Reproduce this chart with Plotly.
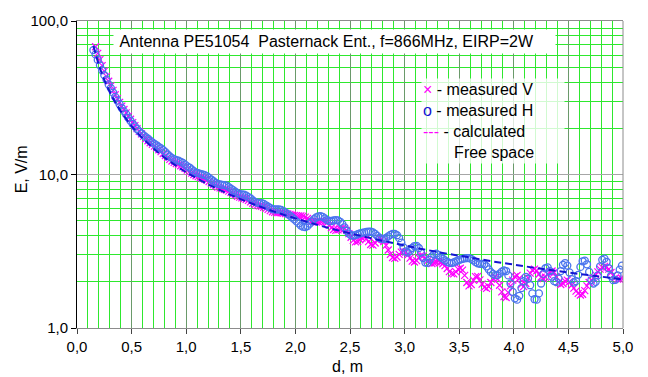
import plotly.graph_objects as go

# Measurement grid: one reading every 2 cm
STEP = 0.02

# Measured field strength E (V/m), H polarisation, starting at d = 0.15 m
e_meas_h = [
    64.6, 60.6, 55.8, 51.4, 47.8, 44.4, 41.5, 38.6, 36.5, 34.2,   # 0.15-0.33
    32.0, 30.3, 28.7, 27.1, 25.8, 24.7, 23.4, 22.4, 21.4, 20.6,   # 0.35-0.53
    19.8, 19.1, 18.5, 18.0, 17.5, 17.1, 16.6, 16.2, 15.8, 15.5,   # 0.55-0.73
    15.1, 14.8, 14.4, 14.0, 13.5, 13.1, 12.8, 12.6, 12.4, 12.3,   # 0.75-0.93
    12.1, 11.9, 11.6, 11.3, 11.1, 10.8, 10.5, 10.3, 10.2, 10.1,   # 0.95-1.13
    10.0, 9.9, 9.75, 9.5, 9.27, 9.04, 8.82, 8.68, 8.63, 8.57,     # 1.15-1.33
    8.52, 8.47, 8.27, 8.09, 7.90, 7.72, 7.55, 7.45, 7.42, 7.39,   # 1.35-1.53
    7.29, 7.13, 6.98, 6.77, 6.63, 6.55, 6.53, 6.51, 6.43, 6.30,   # 1.55-1.73
    6.17, 6.05, 5.95, 5.92, 5.92, 5.92, 5.88, 5.78, 5.65, 5.52,   # 1.75-1.93
    5.40, 5.25, 5.10, 4.95, 4.80, 4.65, 4.57, 4.55, 4.62, 4.78,   # 1.95-2.13
    4.95, 5.12, 5.25, 5.33, 5.35, 5.30, 5.18, 5.05, 4.98, 4.98,   # 2.15-2.33
    5.02, 5.05, 5.03, 4.92, 4.75, 4.52, 4.30, 4.12, 4.02, 4.00,   # 2.35-2.53
    4.03, 4.08, 4.13, 4.17, 4.20, 4.23, 4.25, 4.25, 4.20, 4.10,   # 2.55-2.73
    3.98, 3.87, 3.81, 3.80, 3.86, 3.95, 4.04, 4.10, 4.10, 4.02,   # 2.75-2.93
    3.85, 3.60, 3.35, 3.15, 3.10, 3.18, 3.32, 3.42, 3.43, 3.32,   # 2.95-3.13
    3.10, 2.85, 2.67, 2.66, 2.78, 2.93, 3.03, 3.05, 2.98, 2.90,   # 3.15-3.33
    2.83, 2.76, 2.70, 2.66, 2.65, 2.68, 2.72, 2.76, 2.79, 2.82,   # 3.35-3.53
    2.84, 2.85, 2.85, 2.82, 2.76, 2.69, 2.64, 2.62, 2.62, 2.60,   # 3.55-3.73
    2.52, 2.41, 2.31, 2.25, 2.21, 2.21, 2.26, 2.33, 2.37, 2.35,   # 3.75-3.93
    2.20, 1.95, 1.72, 1.56, 1.53, 1.62, 1.82, 2.02, 2.15, 2.10,   # 3.95-4.13
    1.90, 1.68, 1.54, 1.53, 1.68, 1.95, 2.25, 2.45, 2.48, 2.35,   # 4.15-4.33
    2.16, 2.02, 1.99, 2.10, 2.35, 2.58, 2.65, 2.55, 2.30, 2.08,   # 4.35-4.53
    1.98, 2.02, 2.22, 2.50, 2.72, 2.75, 2.60, 2.32, 2.05, 1.95,   # 4.55-4.73
    2.00, 2.20, 2.52, 2.78, 2.83, 2.70, 2.45, 2.18, 2.05, 2.06,   # 4.75-4.93
    2.20, 2.40, 2.55,                                             # 4.95-4.99
]

# Measured field strength E (V/m), V polarisation, starting at d = 0.17 m
e_meas_v = [
    68.0, 61.5, 56.0, 51.2, 47.2, 43.6, 40.5, 37.8, 35.3, 33.1,   # 0.17-0.35
    31.2, 29.5, 27.9, 26.5, 25.2, 24.0, 22.9, 21.8, 20.8, 19.9,   # 0.37-0.55
    19.1, 18.4, 17.7, 17.1, 16.6, 16.1, 15.7, 15.3, 14.9, 14.5,   # 0.57-0.75
    14.1, 13.7, 13.3, 12.9, 12.55, 12.25, 12.0, 11.8, 11.6, 11.4, # 0.77-0.95
    11.2, 10.95, 10.7, 10.45, 10.2, 10.0, 9.82, 9.68, 9.56, 9.45, # 0.97-1.15
    9.33, 9.18, 9.0, 8.8, 8.6, 8.42, 8.28, 8.18, 8.1, 8.02,       # 1.17-1.35
    7.93, 7.8, 7.65, 7.5, 7.35, 7.22, 7.12, 7.05, 6.98, 6.9,      # 1.37-1.55
    6.78, 6.64, 6.5, 6.38, 6.3, 6.25, 6.2, 6.12, 6.02, 5.92,      # 1.57-1.75
    5.82, 5.72, 5.66, 5.63, 5.64, 5.62, 5.6, 5.57, 5.53, 5.5,     # 1.77-1.95
    5.46, 5.42, 5.40, 5.38, 5.37, 5.35, 5.28, 5.17, 5.05, 4.96,   # 1.97-2.15
    4.92, 4.90, 4.92, 4.96, 4.98, 4.95, 4.85, 4.68, 4.50, 4.38,   # 2.17-2.35
    4.33, 4.36, 4.43, 4.47, 4.45, 4.33, 4.12, 3.90, 3.72, 3.64,   # 2.37-2.55
    3.66, 3.76, 3.86, 3.90, 3.82, 3.65, 3.50, 3.47, 3.58, 3.74,   # 2.57-2.75
    3.83, 3.80, 3.66, 3.45, 3.22, 3.02, 2.88, 2.84, 2.90, 3.02,   # 2.77-2.95
    3.12, 3.16, 3.12, 3.00, 2.85, 2.73, 2.69, 2.75, 2.88, 2.97,   # 2.97-3.15
    2.95, 2.85, 2.74, 2.66, 2.63, 2.65, 2.70, 2.72, 2.68, 2.62,   # 3.17-3.35
    2.55, 2.44, 2.33, 2.26, 2.25, 2.32, 2.42, 2.45, 2.38, 2.20,   # 3.37-3.55
    1.98, 1.88, 1.92, 2.05, 2.16, 2.17, 2.06, 1.93, 1.84, 1.81,   # 3.57-3.75
    1.86, 1.98, 2.10, 2.15, 2.08, 1.90, 1.72, 1.60, 1.58, 1.70,   # 3.77-3.95
    1.88, 2.05, 2.16, 2.20, 2.10, 1.92, 1.86, 1.95, 2.12, 2.28,   # 3.97-4.15
    2.38, 2.42, 2.36, 2.24, 2.14, 2.10, 2.14, 2.24, 2.32, 2.35,   # 4.17-4.35
    2.30, 2.15, 1.98, 1.92, 1.95, 2.02, 2.05, 2.00, 1.90, 1.82,   # 4.37-4.55
    1.74, 1.68, 1.64, 1.66, 1.75, 1.88, 1.98, 2.05, 2.12, 2.22,   # 4.57-4.75
    2.32, 2.42, 2.48, 2.52, 2.50, 2.42, 2.30, 2.20, 2.12, 2.08,   # 4.77-4.95
    2.08, 2.10,                                                   # 4.97-4.99
]

d_meas_h = [round(0.15 + STEP * i, 2) for i in range(len(e_meas_h))]
d_meas_v = [round(0.17 + STEP * i, 2) for i in range(len(e_meas_v))]

# Calculated free-space field strength
d_calc = [0.15, 0.2, 0.25, 0.3, 0.35, 0.4, 0.5, 0.6, 0.7, 0.8, 0.9, 1.0,
          1.2, 1.4, 1.6, 1.8, 2.0, 2.2, 2.4, 2.6, 2.8, 3.0, 3.2, 3.4,
          3.6, 3.8, 4.0, 4.2, 4.4, 4.6, 4.8, 5.0]
e_calc = [69.0, 51.8, 41.4, 34.5, 29.6, 25.9, 20.7, 17.25, 14.8, 12.9, 11.5, 10.35,
          8.63, 7.39, 6.47, 5.75, 5.18, 4.70, 4.31, 3.98, 3.70, 3.45, 3.23, 3.04,
          2.88, 2.72, 2.59, 2.46, 2.35, 2.25, 2.16, 2.07]

# Axis ticks
x_ticks = [0.0, 0.5, 1.0, 1.5, 2.0, 2.5, 3.0, 3.5, 4.0, 4.5, 5.0]
x_tick_labels = ["0,0", "0,5", "1,0", "1,5", "2,0", "2,5", "3,0", "3,5", "4,0", "4,5", "5,0"]
y_ticks = [1, 10, 100]
y_tick_labels = ["1,0", "10,0", "100,0"]
y_minor = [2, 3, 4, 5, 6, 7, 8, 9, 20, 30, 40, 50, 60, 70, 80, 90]

FONT = "Liberation Sans, Arial, sans-serif"
MAGENTA = "#ff00ff"
BLUE_MARK = "#4a74ee"
BLUE_LINE = "#1414d2"
GRID_GREEN = "#2ee82e"
GRID_MAJOR_X = "#6a9a6a"
GRID_MAJOR_Y = "#a6a6a6"

fig = go.Figure()

fig.add_trace(go.Scatter(
    x=d_meas_v, y=e_meas_v, mode="markers", name="measured V",
    marker=dict(symbol="x-thin", size=7, color=MAGENTA,
                line=dict(width=1.2, color=MAGENTA)),
))
fig.add_trace(go.Scatter(
    x=d_meas_h, y=e_meas_h, mode="markers", name="measured H",
    marker=dict(symbol="circle-open", size=7, color=BLUE_MARK,
                line=dict(width=1.3, color=BLUE_MARK)),
))
fig.add_trace(go.Scatter(
    x=d_calc, y=e_calc, mode="lines", name="calculated Free space",
    line=dict(color=BLUE_LINE, width=2, dash="7px,4px", shape="spline"),
))

fig.update_layout(
    width=648, height=377,
    margin=dict(l=77, r=25, t=19, b=49),
    paper_bgcolor="white", plot_bgcolor="white",
    showlegend=False,
    font=dict(family=FONT, size=15, color="#000000"),
)

fig.update_xaxes(
    range=[0, 5],
    tickmode="array", tickvals=x_ticks, ticktext=x_tick_labels,
    ticks="outside", ticklen=5, tickcolor="#444444",
    showline=True, linecolor="#8c8c8c", linewidth=1, mirror=True,
    showgrid=True, gridcolor=GRID_MAJOR_X, gridwidth=1,
    minor=dict(dtick=0.1, tick0=0, showgrid=True, gridcolor=GRID_GREEN, ticks=""),
    zeroline=False,
)
fig.update_yaxes(
    type="log", range=[0, 2],
    tickmode="array", tickvals=y_ticks, ticktext=y_tick_labels,
    ticks="outside", ticklen=5, tickcolor="#000000",
    showline=True, linecolor="#000000", linewidth=1,
    showgrid=True, gridcolor=GRID_MAJOR_Y, gridwidth=1,
    minor=dict(tickmode="array", tickvals=y_minor, showgrid=True,
               gridcolor=GRID_GREEN, ticks=""),
    zeroline=False,
)

# right-hand frame edge
fig.add_shape(type="line", xref="paper", yref="paper", x0=1, x1=1, y0=0, y1=1,
              line=dict(color="#8c8c8c", width=1))

NB = "\u00a0"
fig.add_annotation(
    text=NB + "Antenna PE51054" + NB + " Pasternack Ent., f=866MHz, EIRP=2W",
    xref="paper", yref="paper", x=0.066, y=0.932,
    xanchor="left", yanchor="middle", showarrow=False, align="left",
    bgcolor="white", width=439, height=21,
    font=dict(family=FONT, size=16, color="#000000"),
)

legend_text = (
    f"<span style='color:{MAGENTA}'>×</span> - measured V<br>"
    f"<span style='color:{BLUE_LINE}'>o</span> - measured H<br>"
    f"<span style='color:{MAGENTA}'>---</span> - calculated<br>"
    + NB * 7 + "Free space"
)
fig.add_annotation(
    text=legend_text,
    xref="paper", yref="paper", x=0.762, y=0.673,
    xanchor="center", yanchor="middle", showarrow=False, align="left",
    bgcolor="rgba(255,255,255,0.78)", width=140, height=82,
    font=dict(family=FONT, size=16, color="#000000"),
)

# axis titles
fig.add_annotation(
    text="E, V/m", textangle=-90,
    xref="paper", yref="paper", x=-0.1, y=0.518,
    xanchor="center", yanchor="middle", showarrow=False,
    font=dict(family=FONT, size=16, color="#000000"),
)
fig.add_annotation(
    text="d, m",
    xref="paper", yref="paper", x=0.496, y=-0.127,
    xanchor="center", yanchor="middle", showarrow=False,
    font=dict(family=FONT, size=16, color="#000000"),
)

fig.write_html("out.html")
